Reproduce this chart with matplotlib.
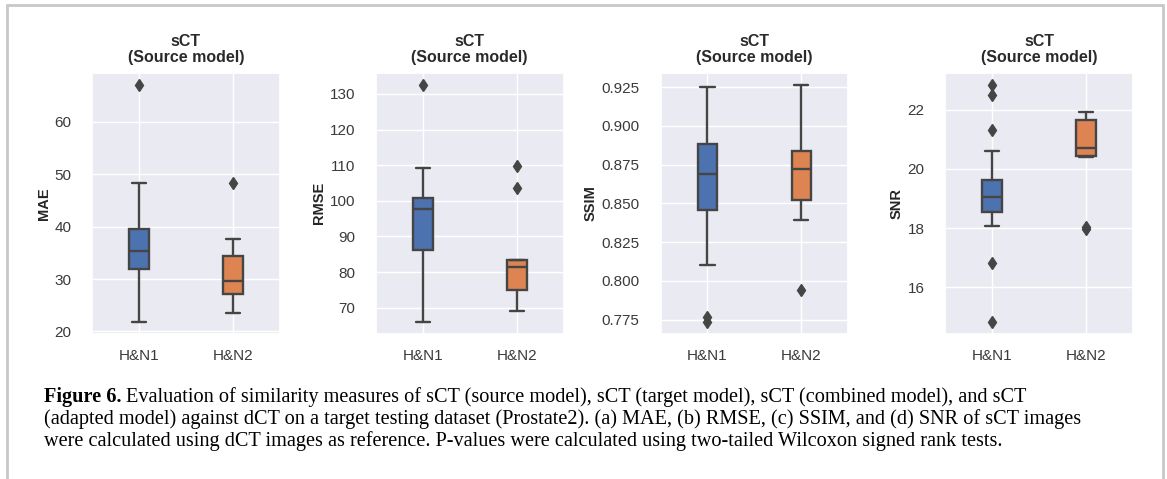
import matplotlib
matplotlib.use("Agg")
import matplotlib.pyplot as plt
import seaborn as sns

# box statistics (H&N1, H&N2)
groups = ["H&N1", "H&N2"]
metrics = ["MAE", "RMSE", "SSIM", "SNR"]

mae_whislo = [21.8, 23.6]
mae_q1 = [32.0, 27.1]
mae_med = [35.3, 29.7]
mae_q3 = [39.6, 34.4]
mae_whishi = [48.4, 37.7]
mae_fliers = [[67.1], [48.4]]

rmse_whislo = [66.0, 69.1]
rmse_q1 = [86.3, 75.1]
rmse_med = [97.6, 81.5]
rmse_q3 = [100.9, 83.3]
rmse_whishi = [109.2, 83.4]
rmse_fliers = [[132.6], [109.9, 103.7]]

ssim_whislo = [0.810, 0.839]
ssim_q1 = [0.846, 0.852]
ssim_med = [0.869, 0.872]
ssim_q3 = [0.888, 0.884]
ssim_whishi = [0.925, 0.9265]
ssim_fliers = [[0.7735, 0.7765], [0.794]]

snr_whislo = [18.08, 20.39]
snr_q1 = [18.53, 20.44]
snr_med = [19.05, 20.72]
snr_q3 = [19.63, 21.67]
snr_whishi = [20.62, 21.91]
snr_fliers = [[22.85, 22.5, 21.3, 16.83, 14.82], [17.95, 18.05]]

all_stats = [
    (mae_whislo, mae_q1, mae_med, mae_q3, mae_whishi, mae_fliers),
    (rmse_whislo, rmse_q1, rmse_med, rmse_q3, rmse_whishi, rmse_fliers),
    (ssim_whislo, ssim_q1, ssim_med, ssim_q3, ssim_whishi, ssim_fliers),
    (snr_whislo, snr_q1, snr_med, snr_q3, snr_whishi, snr_fliers),
]
yticks = [
    [20, 30, 40, 50, 60],
    [70, 80, 90, 100, 110, 120, 130],
    [0.775, 0.800, 0.825, 0.850, 0.875, 0.900, 0.925],
    [16, 18, 20, 22],
]
colors = ["#4C72B0", "#DD8452"]
edge = "#454545"

sns.set_theme(style="darkgrid")
plt.rcParams["font.family"] = ["Liberation Sans", "DejaVu Sans"]

fig = plt.figure(figsize=(11.67, 4.79), dpi=100)
lefts = [0.0788, 0.322, 0.566, 0.810]

for i, (metric, st) in enumerate(zip(metrics, all_stats)):
    ax = fig.add_axes([lefts[i], 0.303, 0.161, 0.545])
    whislo, q1, med, q3, whishi, fliers = st
    stats = []
    for j, g in enumerate(groups):
        stats.append(dict(label=g, whislo=whislo[j], q1=q1[j], med=med[j],
                          q3=q3[j], whishi=whishi[j], fliers=fliers[j]))
    bp = ax.bxp(stats, positions=[0, 1], widths=0.21, capwidths=0.15,
                patch_artist=True, showfliers=True,
                boxprops=dict(edgecolor=edge, linewidth=1.7),
                medianprops=dict(color=edge, linewidth=1.7),
                whiskerprops=dict(color=edge, linewidth=1.7),
                capprops=dict(color=edge, linewidth=1.7),
                flierprops=dict(marker="d", markerfacecolor=edge,
                                markeredgecolor=edge, markersize=6.5))
    for patch, c in zip(bp["boxes"], colors):
        patch.set_facecolor(c)
    ax.set_xlim(-0.5, 1.5)
    ax.set_yticks(yticks[i])
    if metric == "SSIM":
        ax.set_yticklabels(["%.3f" % v for v in yticks[i]])
    ax.tick_params(axis="y", labelsize=11, colors="#3a3a3a", pad=9)
    ax.tick_params(axis="x", labelsize=11, colors="#3a3a3a", pad=5)
    ax.set_ylabel(metric, fontsize=10.5, fontweight="bold", labelpad=2.5)
    ax.set_title("sCT\n(Source model)", fontsize=11.5, fontweight="bold",
                 color="#2a2a2a", linespacing=1.05, pad=8)

# caption box border
fig.add_artist(plt.Line2D([0.006, 0.006], [0, 0.99], color="#c8c8c8", lw=2))
fig.add_artist(plt.Line2D([0.006, 0.9965], [0.99, 0.99], color="#c8c8c8", lw=2))
fig.add_artist(plt.Line2D([0.9965, 0.9965], [0, 0.99], color="#c8c8c8", lw=2))

cap_font = ["Liberation Serif", "DejaVu Serif"]
cap_size = 14.6
x0 = 44 / 1167
t = fig.text(x0, 1 - 397 / 479, "Figure 6.", fontsize=cap_size, fontweight="bold",
             family=cap_font, va="center", color="black")
fig.canvas.draw()
bb = t.get_window_extent()
x1 = (bb.x1 + 4) / fig.bbox.width
fig.text(x1, 1 - 397 / 479,
         "Evaluation of similarity measures of sCT (source model), sCT (target model), sCT (combined model), and sCT",
         fontsize=cap_size, family=cap_font, va="center", color="black")
fig.text(x0, 1 - 419 / 479,
         "(adapted model) against dCT on a target testing dataset (Prostate2). (a) MAE, (b) RMSE, (c) SSIM, and (d) SNR of sCT images",
         fontsize=cap_size, family=cap_font, va="center", color="black")
fig.text(x0, 1 - 441 / 479,
         "were calculated using dCT images as reference. P-values were calculated using two-tailed Wilcoxon signed rank tests.",
         fontsize=cap_size, family=cap_font, va="center", color="black")

fig.savefig("out.png", dpi=100, facecolor="white")
